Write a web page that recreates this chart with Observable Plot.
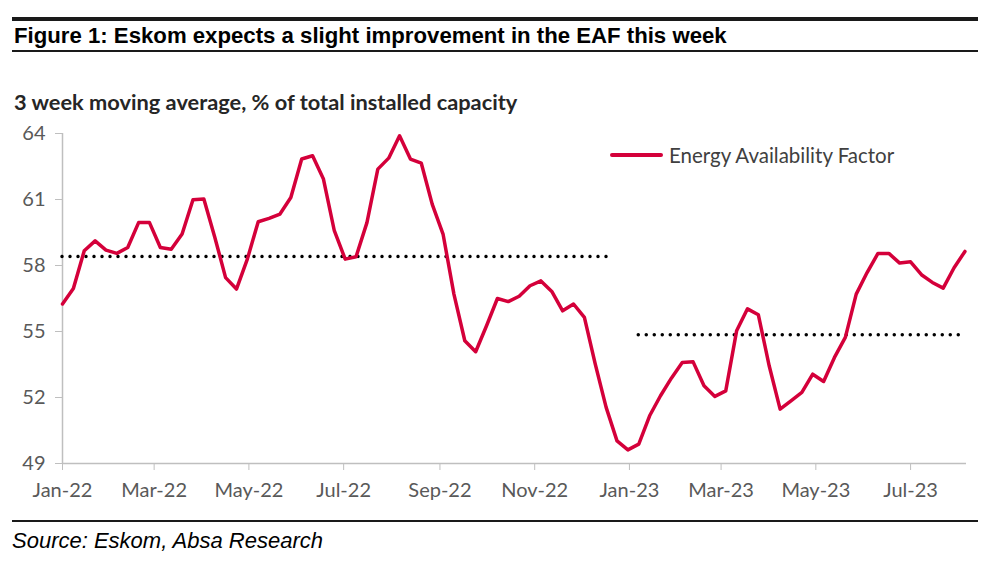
<!DOCTYPE html>
<html><head><meta charset="utf-8">
<script src="https://cdn.jsdelivr.net/npm/d3@7"></script>
<script src="https://cdn.jsdelivr.net/npm/@observablehq/plot@0.6"></script>
<style>
body{margin:0;background:#fff;width:1001px;height:561px;position:relative;overflow:hidden}
.rule{position:absolute;left:12px;width:966px;background:#1a1a1a}
#title{position:absolute;left:14px;top:23px;font:bold 22.2px "Liberation Sans",Arial,sans-serif;color:#000;white-space:nowrap;line-height:26px}
#subtitle{position:absolute;left:14px;top:89px;font:bold 21.8px Lato,sans-serif;color:#262626;white-space:nowrap;line-height:26px}
#source{position:absolute;left:12px;top:528px;font:italic 22px "Liberation Sans",Arial,sans-serif;color:#000;white-space:nowrap;line-height:26px}
#chart{position:absolute;left:0;top:110px}
#legend{position:absolute;left:610px;top:142px;font:20.5px Lato,sans-serif;color:#404040;white-space:nowrap;display:flex;align-items:center;line-height:26px}
#legend .sw{display:inline-block;width:53px;height:3.5px;background:#d4003a;margin-right:6px;border-radius:2px}
</style></head>
<body>
<div class="rule" style="top:17px;height:4px"></div>
<div id="title">Figure 1: Eskom expects a slight improvement in the EAF this week</div>
<div class="rule" style="top:50px;height:2px"></div>
<div id="subtitle">3 week moving average, % of total installed capacity</div>
<div id="chart"></div>
<div id="legend"><span class="sw"></span><span>Energy Availability Factor</span></div>
<div class="rule" style="top:520px;height:2px"></div>
<div id="source">Source: Eskom, Absa Research</div>
<script>
// weekly series, first observation 2022-01-01
const seriesName = "Energy Availability Factor";
const firstWeek = "2022-01-01";
const eaf = [
  56.25, 56.95, 58.67, 59.12, 58.70, 58.55, 58.82, 59.95, 59.95, 58.82,
  58.74, 59.43, 60.99, 61.02, 59.30, 57.45, 56.93, 58.29, 59.99, 60.14,
  60.34, 61.09, 62.84, 62.99, 61.93, 59.58, 58.29, 58.40, 59.95, 62.38,
  62.88, 63.90, 62.84, 62.65, 60.79, 59.43, 56.70, 54.58, 54.08, 55.26,
  56.50, 56.36, 56.60, 57.08, 57.30, 56.82, 55.94, 56.25, 55.64, 53.52,
  51.55, 50.03, 49.62, 49.88, 51.17, 52.08, 52.88, 53.59, 53.62, 52.53,
  52.05, 52.30, 55.03, 56.03, 55.76, 53.43, 51.47, 51.85, 52.23, 53.06,
  52.73, 53.82, 54.73, 56.70, 57.68, 58.55, 58.55, 58.11, 58.17, 57.58,
  57.23, 56.97, 57.90, 58.64
];
// average reference lines
const avgStart = ["2022-01-01", "2023-01-07"];
const avgEnd   = ["2022-12-21", "2023-08-04"];
const avgValue = [58.41, 54.85];
// axes
const xTickLabels = ["2022-01-01","2022-03-01","2022-05-01","2022-07-01","2022-09-01","2022-11-01","2023-01-01","2023-03-01","2023-05-01","2023-07-01"];
const yTicks = [49, 52, 55, 58, 61, 64];
const xDomain = ["2022-01-01", "2023-08-06"];

const parse = d3.utcParse("%Y-%m-%d");
const start = parse(firstWeek);
const data = eaf.map((v, i) => ({date: d3.utcDay.offset(start, 7 * i), value: v}));
const avgs = avgValue.map((v, i) => ({start: parse(avgStart[i]), end: parse(avgEnd[i]), value: v}));
const x0 = parse(xDomain[0]), x1 = parse(xDomain[1]);

const chart = Plot.plot({
  width: 1001, height: 400,
  marginLeft: 62, marginRight: 35, marginTop: 23, marginBottom: 47,
  style: {fontFamily: "Lato, sans-serif", fontSize: "20px", color: "#595959", background: "transparent", overflow: "visible"},
  x: {type: "utc", domain: [x0, x1]},
  y: {domain: [49, 64]},
  marks: [
    Plot.ruleY([49], {stroke: "#bfbfbf", strokeWidth: 1.5}),
    Plot.ruleX([x0], {stroke: "#bfbfbf", strokeWidth: 1.5}),
    Plot.axisX({ticks: xTickLabels.map(parse), tickFormat: d3.utcFormat("%b-%y"), tickSize: 7, tickPadding: 12, stroke: "#bfbfbf", label: null}),
    Plot.axisY({ticks: yTicks, tickSize: 7, tickPadding: 10, stroke: "#bfbfbf", label: null}),
    Plot.ruleY(avgs, {x1: "start", x2: "end", y: "value", stroke: "#000", strokeWidth: 3.5, strokeDasharray: "0,8", strokeLinecap: "round"}),
    Plot.line(data, {x: "date", y: "value", stroke: "#d4003a", strokeWidth: 3.5, strokeLinejoin: "round"})
  ]
});
document.getElementById("chart").append(chart);
</script>
</body></html>
